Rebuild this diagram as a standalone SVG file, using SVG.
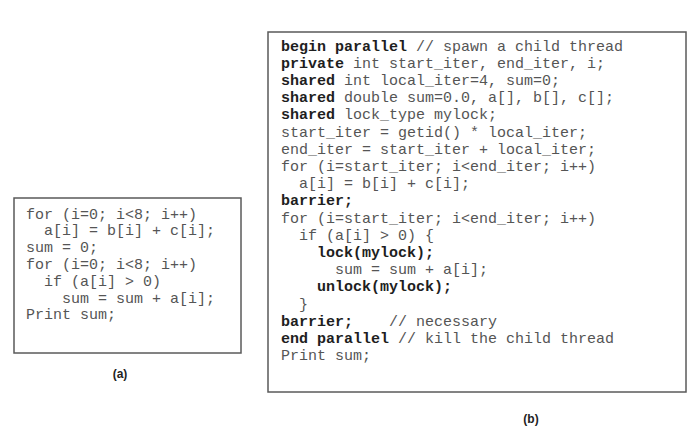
<svg xmlns="http://www.w3.org/2000/svg" width="700" height="431" viewBox="0 0 700 431">
<style>
.box{fill:#ffffff;stroke:#5a5a5a;stroke-width:1.5}
.code{font-family:"Liberation Mono","DejaVu Sans Mono",monospace;font-size:15px;fill:#555555}
.kw{font-weight:bold;fill:#1e1e1e}
.cap{font-family:"Liberation Sans",Arial,sans-serif;font-size:12px;font-weight:bold;fill:#222222;text-anchor:middle}
</style>
<rect width="700" height="431" fill="#ffffff"/>
<g id="node-a">
<rect class="box" x="14" y="198" width="227" height="155"/>
<text class="code" x="26" y="218.5">for (i=0; i&lt;8; i++)</text>
<text class="code" x="44" y="235.3">a[i] = b[i] + c[i];</text>
<text class="code" x="26" y="252.1">sum = 0;</text>
<text class="code" x="26" y="268.9">for (i=0; i&lt;8; i++)</text>
<text class="code" x="44" y="285.7">if (a[i] &gt; 0)</text>
<text class="code" x="62" y="302.5">sum = sum + a[i];</text>
<text class="code" x="26" y="319.3">Print sum;</text>
</g>
<g id="label-a"><text class="cap" x="120" y="378">(a)</text></g>
<g id="node-b">
<rect class="box" x="268" y="32" width="418" height="360"/>
<text class="code" x="281" y="50.5"><tspan class="kw">begin parallel</tspan> // spawn a child thread</text>
<text class="code" x="281" y="67.7"><tspan class="kw">private</tspan> int start_iter, end_iter, i;</text>
<text class="code" x="281" y="84.9"><tspan class="kw">shared</tspan> int local_iter=4, sum=0;</text>
<text class="code" x="281" y="102.1"><tspan class="kw">shared</tspan> double sum=0.0, a[], b[], c[];</text>
<text class="code" x="281" y="119.3"><tspan class="kw">shared</tspan> lock_type mylock;</text>
<text class="code" x="281" y="136.5">start_iter = getid() * local_iter;</text>
<text class="code" x="281" y="153.7">end_iter = start_iter + local_iter;</text>
<text class="code" x="281" y="170.9">for (i=start_iter; i&lt;end_iter; i++)</text>
<text class="code" x="299" y="188.1">a[i] = b[i] + c[i];</text>
<text class="code kw" x="281" y="205.3">barrier;</text>
<text class="code" x="281" y="222.5">for (i=start_iter; i&lt;end_iter; i++)</text>
<text class="code" x="299" y="239.7">if (a[i] &gt; 0) {</text>
<text class="code kw" x="317" y="256.9">lock(mylock);</text>
<text class="code" x="335" y="274.1">sum = sum + a[i];</text>
<text class="code kw" x="317" y="291.3">unlock(mylock);</text>
<text class="code" x="299" y="308.5">}</text>
<text class="code" x="281" y="325.7"><tspan class="kw">barrier;</tspan><tspan x="389">// necessary</tspan></text>
<text class="code" x="281" y="342.9"><tspan class="kw">end parallel</tspan> // kill the child thread</text>
<text class="code" x="281" y="360.1">Print sum;</text>
</g>
<g id="label-b"><text class="cap" x="531" y="423">(b)</text></g>
<g id="connectors"/>
</svg>
